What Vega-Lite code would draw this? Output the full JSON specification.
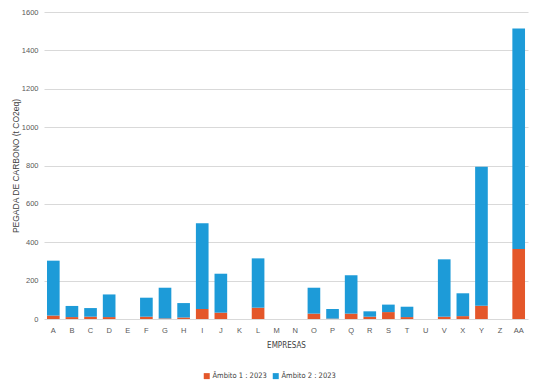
{
  "$schema": "https://vega.github.io/schema/vega-lite/v6.json",
  "width": 484,
  "height": 307,
  "padding": {"top": 8, "left": 11, "right": 9, "bottom": 5},
  "background": "white",
  "config": {
    "view": {"stroke": null},
    "font": "Liberation Sans",
    "axis": {"labelFont": "Liberation Sans", "labelColor": "#595959", "labelFontSize": 7.5}
  },
  "data": {
    "values": [
      {"empresa": "A", "ambito": "Âmbito 1 : 2023", "valor": 18},
      {"empresa": "A", "ambito": "Âmbito 2 : 2023", "valor": 286},
      {"empresa": "B", "ambito": "Âmbito 1 : 2023", "valor": 10},
      {"empresa": "B", "ambito": "Âmbito 2 : 2023", "valor": 58},
      {"empresa": "C", "ambito": "Âmbito 1 : 2023", "valor": 12},
      {"empresa": "C", "ambito": "Âmbito 2 : 2023", "valor": 45},
      {"empresa": "D", "ambito": "Âmbito 1 : 2023", "valor": 10},
      {"empresa": "D", "ambito": "Âmbito 2 : 2023", "valor": 118},
      {"empresa": "E", "ambito": "Âmbito 1 : 2023", "valor": 0},
      {"empresa": "E", "ambito": "Âmbito 2 : 2023", "valor": 0},
      {"empresa": "F", "ambito": "Âmbito 1 : 2023", "valor": 12},
      {"empresa": "F", "ambito": "Âmbito 2 : 2023", "valor": 99},
      {"empresa": "G", "ambito": "Âmbito 1 : 2023", "valor": 3},
      {"empresa": "G", "ambito": "Âmbito 2 : 2023", "valor": 160},
      {"empresa": "H", "ambito": "Âmbito 1 : 2023", "valor": 8},
      {"empresa": "H", "ambito": "Âmbito 2 : 2023", "valor": 75},
      {"empresa": "I", "ambito": "Âmbito 1 : 2023", "valor": 52},
      {"empresa": "I", "ambito": "Âmbito 2 : 2023", "valor": 447},
      {"empresa": "J", "ambito": "Âmbito 1 : 2023", "valor": 33},
      {"empresa": "J", "ambito": "Âmbito 2 : 2023", "valor": 203},
      {"empresa": "K", "ambito": "Âmbito 1 : 2023", "valor": 0},
      {"empresa": "K", "ambito": "Âmbito 2 : 2023", "valor": 0},
      {"empresa": "L", "ambito": "Âmbito 1 : 2023", "valor": 59},
      {"empresa": "L", "ambito": "Âmbito 2 : 2023", "valor": 257},
      {"empresa": "M", "ambito": "Âmbito 1 : 2023", "valor": 0},
      {"empresa": "M", "ambito": "Âmbito 2 : 2023", "valor": 0},
      {"empresa": "N", "ambito": "Âmbito 1 : 2023", "valor": 0},
      {"empresa": "N", "ambito": "Âmbito 2 : 2023", "valor": 0},
      {"empresa": "O", "ambito": "Âmbito 1 : 2023", "valor": 28},
      {"empresa": "O", "ambito": "Âmbito 2 : 2023", "valor": 135},
      {"empresa": "P", "ambito": "Âmbito 1 : 2023", "valor": 2},
      {"empresa": "P", "ambito": "Âmbito 2 : 2023", "valor": 50},
      {"empresa": "Q", "ambito": "Âmbito 1 : 2023", "valor": 28},
      {"empresa": "Q", "ambito": "Âmbito 2 : 2023", "valor": 200},
      {"empresa": "R", "ambito": "Âmbito 1 : 2023", "valor": 12},
      {"empresa": "R", "ambito": "Âmbito 2 : 2023", "valor": 28},
      {"empresa": "S", "ambito": "Âmbito 1 : 2023", "valor": 36},
      {"empresa": "S", "ambito": "Âmbito 2 : 2023", "valor": 39},
      {"empresa": "T", "ambito": "Âmbito 1 : 2023", "valor": 10},
      {"empresa": "T", "ambito": "Âmbito 2 : 2023", "valor": 54},
      {"empresa": "U", "ambito": "Âmbito 1 : 2023", "valor": 0},
      {"empresa": "U", "ambito": "Âmbito 2 : 2023", "valor": 0},
      {"empresa": "V", "ambito": "Âmbito 1 : 2023", "valor": 12},
      {"empresa": "V", "ambito": "Âmbito 2 : 2023", "valor": 299},
      {"empresa": "X", "ambito": "Âmbito 1 : 2023", "valor": 15},
      {"empresa": "X", "ambito": "Âmbito 2 : 2023", "valor": 119},
      {"empresa": "Y", "ambito": "Âmbito 1 : 2023", "valor": 69},
      {"empresa": "Y", "ambito": "Âmbito 2 : 2023", "valor": 724},
      {"empresa": "Z", "ambito": "Âmbito 1 : 2023", "valor": 0},
      {"empresa": "Z", "ambito": "Âmbito 2 : 2023", "valor": 0},
      {"empresa": "AA", "ambito": "Âmbito 1 : 2023", "valor": 365},
      {"empresa": "AA", "ambito": "Âmbito 2 : 2023", "valor": 1149}
    ]
  },
  "mark": {"type": "bar"},
  "encoding": {
    "x": {
      "field": "empresa",
      "type": "nominal",
      "sort": null,
      "scale": {"paddingInner": 0.32, "paddingOuter": 0.16},
      "axis": {
        "title": "EMPRESAS",
        "titleFont": "DejaVu Sans Condensed, Liberation Sans",
        "titleFontSize": 8,
        "titleFontWeight": "normal",
        "titleColor": "#404040",
        "titlePadding": 8,
        "labelAngle": 0,
        "labelPadding": 7,
        "ticks": false,
        "domain": false,
        "grid": false
      }
    },
    "y": {
      "field": "valor",
      "type": "quantitative",
      "stack": "zero",
      "scale": {"domain": [0, 1600], "nice": false},
      "axis": {
        "title": "PEGADA DE CARBONO (t CO2eq)",
        "titleFontSize": 8.5,
        "titleFontWeight": "normal",
        "titleColor": "#404040",
        "titlePadding": 1,
        "format": "d",
        "values": [0, 200, 400, 600, 800, 1000, 1200, 1400, 1600],
        "ticks": false,
        "domain": false,
        "labelPadding": 6,
        "gridColor": "#d9d9d9",
        "gridWidth": 1
      }
    },
    "order": {"field": "ambito", "sort": "ascending"},
    "color": {
      "field": "ambito",
      "type": "nominal",
      "scale": {"domain": ["Âmbito 1 : 2023", "Âmbito 2 : 2023"], "range": ["#E4572A", "#1D9BD8"]},
      "legend": {
        "title": null,
        "orient": "none",
        "direction": "horizontal",
        "legendX": 159,
        "legendY": 360,
        "symbolType": "square",
        "symbolSize": 36,
        "symbolStrokeWidth": 0,
        "labelFont": "DejaVu Sans Condensed, Liberation Sans",
        "labelFontSize": 7.5,
        "labelColor": "#404040",
        "columnPadding": 5,
        "labelOffset": 2
      }
    }
  }
}
